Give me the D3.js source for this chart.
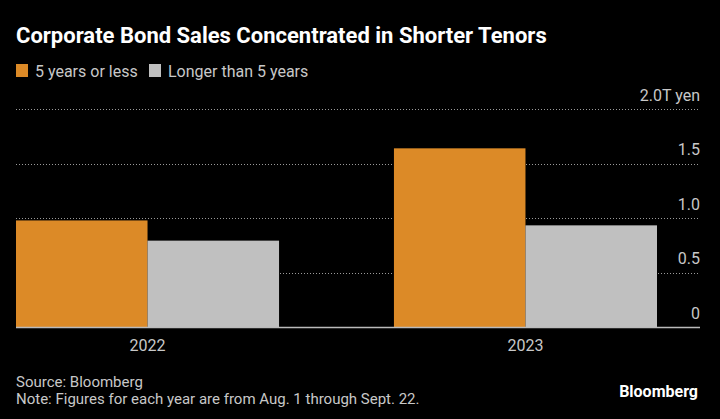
<!DOCTYPE html>
<html><head><meta charset="utf-8">
<script src="https://cdn.jsdelivr.net/npm/d3@7"></script>
<style>
html,body{margin:0;padding:0;background:#000;}
svg{display:block;font-family:"Liberation Sans Narrow","Roboto","Noto Sans",sans-serif;}
</style></head>
<body><svg id="c" width="720" height="419"></svg>
<script>
const years = ["2022","2023"];
const seriesNames = ["5 years or less","Longer than 5 years"];
const shortTenor = [0.98, 1.64];
const longTenor = [0.795, 0.935];
const yTicks = [0, 0.5, 1.0, 1.5, 2.0];
const tickLabels = ["0","0.5","1.0","1.5","2.0T yen"];
const colors = ["#dc8a27","#c0c0c0"];

(function(){
const svg = d3.select("#c");
svg.append("rect").attr("width",720).attr("height",419).attr("fill","#000");

const mLeft = 16, mRight = 700, mTop = 109, mBottom = 327.5;
const x0 = d3.scaleBand().domain(years).range([mLeft, 657]).paddingInner(0.304).paddingOuter(0);
const x1 = d3.scaleBand().domain([0,1]).range([0, x0.bandwidth()]);
const y = d3.scaleLinear().domain([0,2]).range([mBottom, mTop]);

// gridlines
svg.append("g").selectAll("line").data(yTicks.filter(d=>d>0)).join("line")
  .attr("x1", mLeft).attr("x2", mRight)
  .attr("y1", d=>Math.round(y(d))+0.5).attr("y2", d=>Math.round(y(d))+0.5)
  .attr("stroke","#9a9a9a").attr("stroke-width",1).attr("stroke-dasharray","1,2");

// bars
const data = years.map((yr,i)=>({yr, vals:[shortTenor[i], longTenor[i]]}));
const g = svg.append("g").selectAll("g").data(data).join("g")
  .attr("transform", d=>`translate(${x0(d.yr)},0)`);
g.selectAll("rect").data(d=>d.vals.map((v,k)=>({v,k}))).join("rect")
  .attr("x", d=>x1(d.k)).attr("width", x1.bandwidth())
  .attr("y", d=>y(d.v)).attr("height", d=>mBottom - y(d.v))
  .attr("fill", d=>colors[d.k]);

// baseline
svg.append("line").attr("x1",mLeft).attr("x2",mRight).attr("y1",mBottom).attr("y2",mBottom)
  .attr("stroke","#bbbbbb").attr("stroke-width",1.5);

// y axis labels (right)
const yAxis = d3.axisRight(y).tickValues(yTicks).tickSize(0).tickFormat((d,i)=>tickLabels[i]);
const ya = svg.append("g").attr("transform",`translate(${mRight},0)`).call(yAxis);
ya.select(".domain").remove();
ya.selectAll("text").attr("x",0).attr("dy",null).attr("text-anchor","end")
  .attr("y",-9).attr("fill","#c8c8c8").style("font-size","16px")
  .style("font-family","'Liberation Sans Narrow',Roboto,sans-serif");

// x axis labels
const xAxis = d3.axisBottom(x0).tickSize(0);
const xa = svg.append("g").attr("transform",`translate(0,${mBottom})`).call(xAxis);
xa.select(".domain").remove();
xa.selectAll("text").attr("y",12).attr("fill","#c8c8c8").style("font-size","16px")
  .style("font-family","'Liberation Sans Narrow',Roboto,sans-serif");

// title
svg.append("text").attr("x",16).attr("y",43).attr("fill","#ffffff")
  .style("font-size","22px").style("font-weight","bold")
  .text("Corporate Bond Sales Concentrated in Shorter Tenors");

// legend
const lg = svg.append("g").attr("transform","translate(16,71)");
const legX = [0, 133];
seriesNames.forEach((n,i)=>{
  lg.append("rect").attr("x",legX[i]).attr("y",-7).attr("width",12).attr("height",13).attr("fill",colors[i]);
  lg.append("text").attr("x",legX[i]+19).attr("y",6).attr("fill","#c8c8c8").style("font-size","16px").text(n);
});

// footer
svg.append("text").attr("x",16).attr("y",387).attr("fill","#c8c8c8").style("font-size","15px").text("Source: Bloomberg");
svg.append("text").attr("x",16).attr("y",404).attr("fill","#c8c8c8").style("font-size","15px").text("Note: Figures for each year are from Aug. 1 through Sept. 22.");
svg.append("text").attr("x",698).attr("y",397).attr("text-anchor","end").attr("fill","#ffffff")
  .style("font-size","16px").style("font-weight","bold").style("font-family","Roboto,Arial,sans-serif").text("Bloomberg");
})();
</script></body></html>
